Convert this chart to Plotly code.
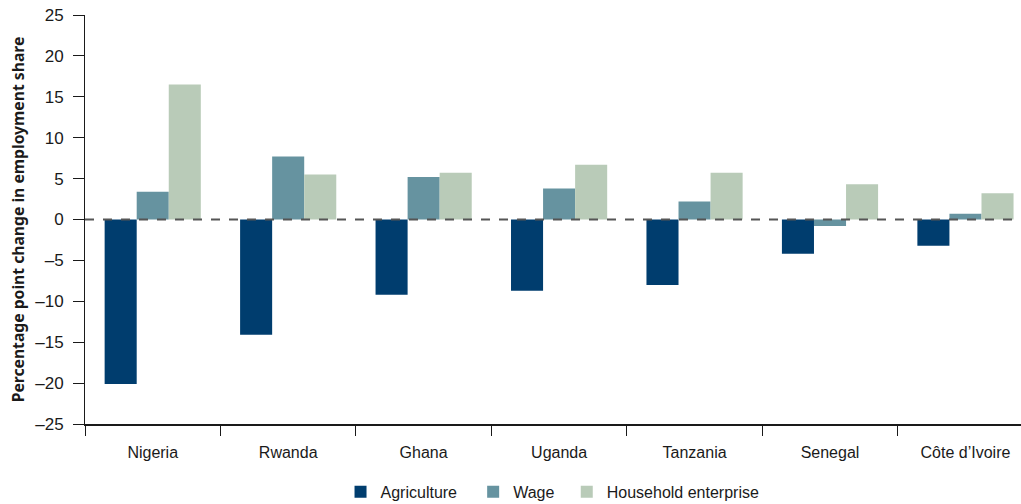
import plotly.graph_objects as go

countries = ["Nigeria", "Rwanda", "Ghana", "Uganda", "Tanzania", "Senegal", "Côte d’Ivoire"]
agriculture = [-20.1, -14.1, -9.2, -8.7, -8.0, -4.2, -3.2]
wage = [3.4, 7.7, 5.2, 3.8, 2.2, -0.8, 0.7]
household = [16.5, 5.5, 5.7, 6.7, 5.7, 4.3, 3.2]

y_ticks = [25, 20, 15, 10, 5, 0, -5, -10, -15, -20, -25]
y_tick_text = [str(v) if v >= 0 else "–" + str(-v) for v in y_ticks]

FONT = "Liberation Sans Narrow, Arial Narrow, sans-serif"
TITLE_FONT = "Noto Sans, Open Sans, sans-serif"

series = [
    ("Agriculture", agriculture, "#003d6e", "legend", 0.273),
    ("Wage", wage, "#6693a0", "legend2", 0.4147),
    ("Household enterprise", household, "#b9cbb8", "legend3", 0.5147),
]

fig = go.Figure()
for name, vals, color, leg, _ in series:
    fig.add_trace(go.Bar(x=countries, y=vals, name=name, legend=leg,
                         marker=dict(color=color, line=dict(width=0))))

# dashed zero reference line
fig.add_shape(type="line", xref="paper", x0=0, x1=1, yref="y", y0=0, y1=0,
              line=dict(color="#555555", width=2, dash="dash"))

legend_style = dict(orientation="h", xanchor="left", y=-0.166, yanchor="middle",
                    font=dict(size=16), itemwidth=30, bgcolor="rgba(0,0,0,0)")

fig.update_layout(
    width=1021, height=504,
    margin=dict(l=85, r=0, t=15, b=80, autoexpand=False),
    paper_bgcolor="white", plot_bgcolor="white",
    barmode="group", bargap=0.29, bargroupgap=0,
    font=dict(family=FONT, size=16, color="#1a1a1a"),
    showlegend=True,
    legend=dict(x=series[0][4], **legend_style),
    legend2=dict(x=series[1][4], **legend_style),
    legend3=dict(x=series[2][4], **legend_style),
    xaxis=dict(
        type="category", range=[-0.5, 6.41], tickson="boundaries",
        ticks="outside", ticklen=10, tickcolor="#1a1a1a", tickwidth=1,
        showline=True, linecolor="#1a1a1a", linewidth=2, automargin=False,
        showgrid=False, tickfont=dict(size=16), ticklabelstandoff=13,
    ),
    yaxis=dict(
        range=[-25, 25], tickvals=y_ticks, ticktext=y_tick_text,
        ticks="outside", ticklen=11, tickcolor="#1a1a1a", tickwidth=1,
        showline=True, linecolor="#1a1a1a", linewidth=1, automargin=False,
        showgrid=False, zeroline=False, tickfont=dict(size=17), ticklabelstandoff=6,
        title=dict(text="<b>Percentage point change in employment share</b>",
                   font=dict(size=15.7, family=TITLE_FONT), standoff=6),
    ),
)

fig.write_html("out.html")
